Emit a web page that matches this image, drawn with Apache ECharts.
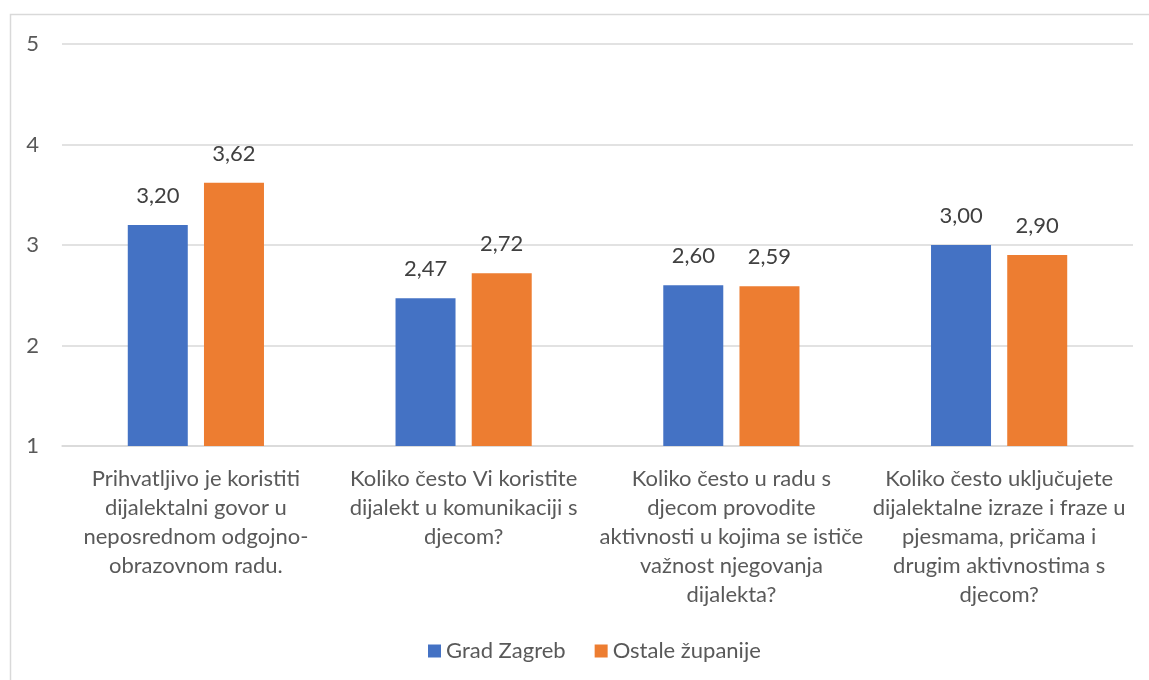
<!DOCTYPE html>
<html>
<head>
<meta charset="utf-8">
<script src="https://cdn.jsdelivr.net/npm/echarts@6/dist/echarts.min.js"></script>
<style>
  html, body { margin: 0; padding: 0; background: #fff; }
  #chart { width: 1149px; height: 680px; }
</style>
</head>
<body>
<div id="chart"></div>
<script>
// kategorije (pitanja)
const categories = [
  'Prihvatljivo je koristiti\ndijalektalni govor u\nneposrednom odgojno-\nobrazovnom radu.',
  'Koliko često Vi koristite\ndijalekt u komunikaciji s\ndjecom?',
  'Koliko često u radu s\ndjecom provodite\naktivnosti u kojima se ističe\nvažnost njegovanja\ndijalekta?',
  'Koliko često uključujete\ndijalektalne izraze i fraze u\npjesmama, pričama i\ndrugim aktivnostima s\ndjecom?'
];
const seriesNames = ['Grad Zagreb', 'Ostale županije'];
const gradZagreb = [3.20, 2.47, 2.60, 3.00];
const ostaleZupanije = [3.62, 2.72, 2.59, 2.90];
const yTicks = [1, 2, 3, 4, 5];

const FONT = 'Lato';
const FS = 22;
const chart = echarts.init(document.getElementById('chart'));

const labelCfg = {
  show: true,
  position: 'top',
  distance: 18,
  fontFamily: FONT,
  fontSize: FS,
  color: '#404040',
  formatter: p => p.value.toFixed(2).replace('.', ',')
};

const option = {
  animation: false,
  textStyle: { fontFamily: FONT },
  graphic: [{
    type: 'rect',
    shape: { x: 10.5, y: 14.5, width: 1200, height: 700 },
    style: { fill: 'none', stroke: '#d9d9d9', lineWidth: 1.5 },
    silent: true
  }],
  legend: {
    data: seriesNames,
    left: 423,
    top: 635,
    icon: 'rect',
    itemWidth: 13,
    itemHeight: 13,
    itemGap: 29,
    textStyle: { fontFamily: FONT, fontSize: FS, color: '#595959' }
  },
  grid: { left: 62, right: 16, top: 44, bottom: 234 },
  xAxis: {
    type: 'category',
    data: categories,
    axisTick: { show: false },
    axisLine: { show: true, lineStyle: { color: '#d9d9d9', width: 1.5 } },
    axisLabel: {
      interval: 0,
      margin: 18,
      fontFamily: FONT,
      fontSize: FS,
      lineHeight: 29,
      color: '#595959',
      align: 'center'
    }
  },
  yAxis: {
    type: 'value',
    min: yTicks[0],
    max: yTicks[yTicks.length - 1],
    interval: 1,
    axisLine: { show: false },
    axisTick: { show: false },
    splitLine: { lineStyle: { color: '#d9d9d9', width: 1.5 } },
    axisLabel: {
      margin: 23,
      fontFamily: FONT,
      fontSize: FS,
      color: '#595959'
    }
  },
  series: [
    {
      name: seriesNames[0],
      type: 'bar',
      data: gradZagreb,
      barWidth: 60,
      barGap: '27%',
      itemStyle: { color: '#4472C4' },
      label: labelCfg
    },
    {
      name: seriesNames[1],
      type: 'bar',
      data: ostaleZupanije,
      barWidth: 60,
      barGap: '27%',
      itemStyle: { color: '#ED7D31' },
      label: labelCfg
    }
  ]
};

chart.setOption(option);
</script>
</body>
</html>
